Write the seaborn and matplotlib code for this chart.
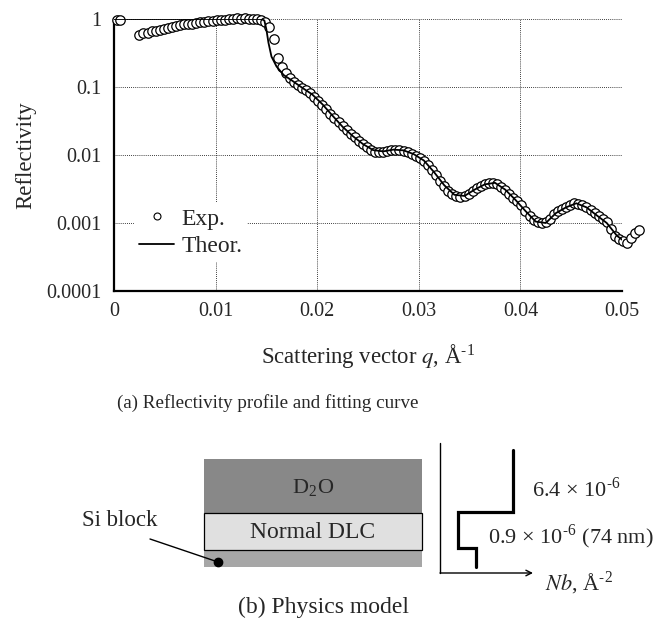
import matplotlib
matplotlib.use('Agg')
import matplotlib.pyplot as plt
import matplotlib.patches as mpatches
from matplotlib.lines import Line2D
from matplotlib.ticker import NullFormatter
import seaborn as sns

q_exp = [0.0003, 0.0006,
         0.0025, 0.0029, 0.0033, 0.0037, 0.0041, 0.0045, 0.0049, 0.0053, 0.0057, 0.0061,
         0.0065, 0.0069, 0.0073, 0.0077, 0.0081, 0.0085, 0.0089, 0.0093, 0.0097, 0.0101,
         0.0105, 0.0109, 0.0113, 0.0117, 0.0121, 0.0125, 0.0129, 0.0133, 0.0137, 0.0141,
         0.0145, 0.0149, 0.0153, 0.0157, 0.0161, 0.0165, 0.0169, 0.0173, 0.0177, 0.0181,
         0.0185, 0.0189, 0.0193, 0.0197, 0.0201, 0.0205, 0.0209, 0.0213, 0.0217, 0.0221,
         0.0225, 0.0229, 0.0233, 0.0237, 0.0241, 0.0245, 0.0249, 0.0253, 0.0257, 0.0261,
         0.0265, 0.0269, 0.0273, 0.0277, 0.0281, 0.0285, 0.0289, 0.0293, 0.0297, 0.0301,
         0.0305, 0.0309, 0.0313, 0.0317, 0.0321, 0.0325, 0.0329, 0.0333, 0.0337, 0.0341,
         0.0345, 0.0349, 0.0353, 0.0357, 0.0361, 0.0365, 0.0369, 0.0373, 0.0377, 0.0381,
         0.0385, 0.0389, 0.0393, 0.0397, 0.0401, 0.0405, 0.0409, 0.0413, 0.0417, 0.0421,
         0.0425, 0.0429, 0.0433, 0.0437, 0.0441, 0.0445, 0.0449, 0.0453, 0.0457, 0.0461,
         0.0465, 0.0469, 0.0473, 0.0477, 0.0481, 0.0485, 0.0489, 0.0493, 0.0497, 0.0501,
         0.0505, 0.0509, 0.0513, 0.0517]
r_exp = [0.96, 0.97,
         0.589, 0.617, 0.631, 0.661, 0.676, 0.692, 0.724, 0.741, 0.759, 0.794,
         0.813, 0.832, 0.851, 0.851, 0.871, 0.891, 0.912, 0.933, 0.933, 0.955,
         0.977, 0.977, 1.0, 1.0, 1.02, 1.0, 1.02, 1.0, 1.0, 1.0,
         0.977, 0.912, 0.759, 0.501, 0.263, 0.200, 0.158, 0.135, 0.117, 0.107,
         0.0977, 0.0891, 0.0813, 0.0724, 0.0631, 0.0550, 0.0479, 0.0407, 0.0347, 0.0302,
         0.0263, 0.0234, 0.0204, 0.0182, 0.0162, 0.0145, 0.0132, 0.0120, 0.0112, 0.0110,
         0.0112, 0.0115, 0.0117, 0.0117, 0.0117, 0.0115, 0.0110, 0.0105, 0.00977, 0.00912,
         0.00813, 0.00708, 0.00603, 0.00501, 0.00417, 0.00347, 0.00295, 0.00269, 0.00251, 0.00245,
         0.00251, 0.00269, 0.00295, 0.00324, 0.00347, 0.00372, 0.00389, 0.00389, 0.00372, 0.00339,
         0.00302, 0.00263, 0.00234, 0.00209, 0.00182, 0.00148, 0.00126, 0.00110, 0.00102, 0.00100,
         0.00102, 0.00115, 0.00135, 0.00148, 0.00158, 0.00170, 0.00182, 0.00195, 0.00191, 0.00182,
         0.00170, 0.00155, 0.00138, 0.00126, 0.00115, 0.00102, 0.00083, 0.00065, 0.00058, 0.00055,
         0.00050, 0.00060, 0.00071, 0.00079]

# fitted (theoretical) curve
q_fit = [0.0, 0.0145, 0.0148, 0.0150, 0.0152, 0.0155, 0.0160, 0.0167, 0.0175, 0.0185,
         0.0195, 0.0205, 0.0215, 0.0225, 0.0235, 0.0245, 0.0255, 0.0265, 0.0275, 0.0285,
         0.0295, 0.0305, 0.0315, 0.0325, 0.0335, 0.0345, 0.0355, 0.0365, 0.0375, 0.0385,
         0.0395, 0.0405, 0.0415, 0.0425, 0.0435, 0.0445, 0.0455, 0.0465, 0.0475, 0.0485,
         0.0495, 0.0505]
r_fit = [1.0, 1.0, 0.95, 0.70, 0.45, 0.28, 0.20, 0.15, 0.125, 0.098,
         0.078, 0.056, 0.038, 0.026, 0.019, 0.0145, 0.0118, 0.0113, 0.0120, 0.0117,
         0.0103, 0.0083, 0.0056, 0.0036, 0.0026, 0.0025, 0.0031, 0.0037, 0.0039, 0.0031,
         0.0022, 0.0015, 0.00105, 0.0010, 0.0014, 0.0017, 0.00195, 0.0017, 0.0013, 0.0010,
         0.00065, 0.0005]

x_ticks = [0, 0.01, 0.02, 0.03, 0.04, 0.05]
x_labels = ['0', '0.01', '0.02', '0.03', '0.04', '0.05']
y_ticks = [1, 0.1, 0.01, 0.001, 0.0001]
y_labels = ['1', '0.1', '0.01', '0.001', '0.0001']

sns.set_style('white')
plt.rcParams['font.family'] = ['Liberation Serif', 'DejaVu Serif']
plt.rcParams['mathtext.fontset'] = 'stix'

W, H = 664, 619
fig = plt.figure(figsize=(W / 100, H / 100), dpi=100)
ax = fig.add_axes([114 / W, 1 - 291 / H, (622 - 114) / W, (291 - 19) / H])

sns.scatterplot(x=q_exp, y=r_exp, ax=ax, marker='o', s=46, color='white',
                edgecolor='black', linewidth=0.9, clip_on=False, zorder=3)
sns.lineplot(x=q_fit, y=r_fit, ax=ax, color='black', linewidth=1.3,
             estimator=None, sort=False, zorder=4)

ax.set_yscale('log')
ax.set_xlim(0, 0.05)
ax.set_ylim(1e-4, 1)
ax.set_xticks(x_ticks, x_labels)
ax.set_xticks([0.005, 0.015, 0.025, 0.035, 0.045], minor=True)
ax.set_yticks(y_ticks, y_labels)
ax.set_yticks([0.316, 0.0316, 0.00316, 0.000316], minor=True)
ax.yaxis.set_minor_formatter(NullFormatter())
ax.tick_params(which='both', direction='in', width=1.5, labelsize=14.5)
ax.tick_params(which='major', length=6)
ax.tick_params(which='minor', length=4)
ax.tick_params(axis='x', pad=8)
ax.tick_params(axis='y', pad=9)
ax.grid(True, which='major', linestyle=(0, (1, 1.5)), color='black', linewidth=0.6)
for s in ['top', 'right']:
    ax.spines[s].set_visible(False)
for s in ['left', 'bottom']:
    ax.spines[s].set_linewidth(1.6)
    ax.spines[s].set_color('black')

ax.set_xlabel('Scattering vector $q$, Å$^{\\mathregular{\\text{-}1}}$', fontsize=16.4, labelpad=15)
ax.set_ylabel('Reflectivity', fontsize=16.4, labelpad=7)

handles = [Line2D([], [], marker='o', linestyle='none', markersize=5,
                  markerfacecolor='white', markeredgecolor='black', markeredgewidth=0.8),
           Line2D([], [], color='black', linewidth=1.3)]
leg = ax.legend(handles, ['Exp.', 'Theor.'], loc='center left', bbox_to_anchor=(0.04, 0.215),
                frameon=True, fontsize=17, handlelength=1.5, handletextpad=0.3,
                labelspacing=0.25, borderpad=0.2, borderaxespad=0)
leg.get_frame().set_edgecolor('none')
leg.get_frame().set_facecolor('white')
leg.get_frame().set_alpha(1)

# overlay for captions and the physics model sketch (pixel coordinates)
ov = fig.add_axes([0, 0, 1, 1])
ov.set_xlim(0, W)
ov.set_ylim(H, 0)
ov.axis('off')
ov.patch.set_alpha(0)

ov.text(268, 403, '(a) Reflectivity profile and fitting curve', ha='center', va='center', fontsize=13.7)

ov.add_patch(mpatches.Rectangle((204, 459), 218, 54, facecolor='#888888', edgecolor='none'))
ov.add_patch(mpatches.Rectangle((204, 550), 218, 17, facecolor='#a6a6a6', edgecolor='none'))
ov.add_patch(mpatches.Rectangle((204, 513), 218, 37, facecolor='#e0e0e0', edgecolor='black', linewidth=0.9))
ov.text(313, 488, 'D$_{\\mathregular{2}}$O', ha='center', va='center', fontsize=16)
ov.text(313, 533, 'Normal DLC', ha='center', va='center', fontsize=17)
ov.text(120, 520, 'Si block', ha='center', va='center', fontsize=16.5)
ov.plot([150, 218], [539, 562], color='black', linewidth=1)
ov.plot([218], [562], marker='o', markersize=6, color='black')

ov.plot([440, 440], [443, 573], color='black', linewidth=1)
ov.annotate('', xy=(533, 573), xytext=(440, 573),
            arrowprops=dict(arrowstyle='->', color='black', lw=1, shrinkA=0, shrinkB=0))
ov.plot([513, 513, 458, 458, 476, 476], [450, 512, 512, 548, 548, 567],
        color='black', linewidth=2.3, solid_joinstyle='miter')
ov.text(532, 490, '6.4 × 10$^{\\mathregular{\\text{-}6}}$', ha='left', va='center', fontsize=16)
ov.text(488, 537, '0.9 × 10$^{\\mathregular{\\text{-}6}}$ (74 nm)', ha='left', va='center', fontsize=16)
ov.text(545, 583, '$Nb$, Å$^{\\mathregular{\\text{-}2}}$', ha='left', va='center', fontsize=16)
ov.text(323, 607, '(b) Physics model', ha='center', va='center', fontsize=17)

fig.savefig('out.png', dpi=100)
